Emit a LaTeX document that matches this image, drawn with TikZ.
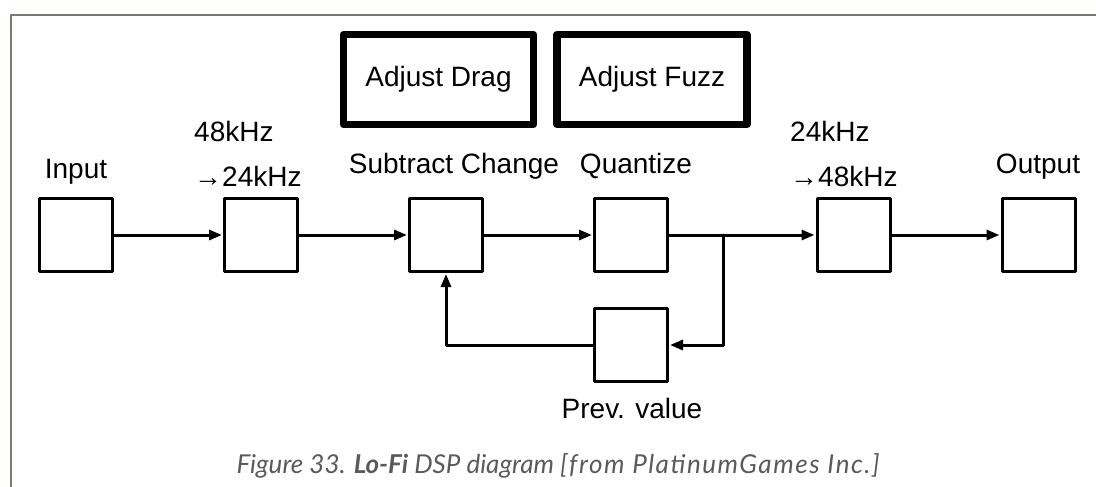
\documentclass[tikz,border=0pt]{standalone}
\usepackage{fontspec}
\setmainfont{Liberation Sans}
\newfontfamily\capfont{Lato}
\usetikzlibrary{arrows.meta, positioning}
\definecolor{framegray}{HTML}{7D7868}
\definecolor{capgray}{HTML}{5A5A5A}

\begin{document}
\begin{tikzpicture}[x=1pt, y=-1pt, line join=round, line cap=round,
    block/.style={draw, line width=3pt, minimum size=73pt, inner sep=0pt},
    knob/.style={draw, line width=7.5pt, minimum width=190pt, minimum height=89.5pt,
      inner sep=0pt, font=\fontsize{28}{30}\selectfont},
    lbl/.style={inner sep=0pt, font=\fontsize{28}{45}\selectfont},
    flow/.style={line width=3pt, shorten >=1pt, -{Triangle[length=13pt, width=10pt]}}]
  \useasboundingbox (0,0) rectangle (1096,487);
  % page frame
  \draw[line width=2pt, framegray, line cap=butt] (1096,15) -- (11,15) -- (11,487);

  % blocks on the main path
  \foreach \n/\x in {in/76, down/261, sub/446, quant/631, up/853.5, out/1038.5} {
    \node[block] (\n) at (\x,235) {};
  }
  \node[block] (prev) at (631,345) {};

  % control boxes
  \node[knob] (drag) at (438.5,79.5) {Adjust Drag};
  \node[knob] (fuzz) at (652,79.5) {Adjust Fuzz};

  % labels
  \node[lbl, anchor=base] (inlbl) at (76,178) {Input};
  \node[lbl, anchor=south west, align=left] (downlbl) at (194,187) {48kHz\\→24kHz};
  \node[lbl, anchor=base] (sublbl) at (454,173) {Subtract Change};
  \node[lbl, anchor=base] (quantlbl) at (636,173) {Quantize};
  \node[lbl, anchor=south west, align=left] (uplbl) at (790,187) {24kHz\\→48kHz};
  \node[lbl, anchor=base] (outlbl) at (1038,173) {Output};
  \node[lbl, anchor=base] (prevlbl) at (632,418) {Prev. value};

  % signal flow
  \draw[flow] (in) -- (down);
  \draw[flow] (down) -- (sub);
  \draw[flow] (sub) -- (quant);
  \draw[flow] (quant) -- (up);
  \draw[flow] (up) -- (out);
  \coordinate (tap) at (723,235);
  \draw[flow] (tap) |- (prev);
  \draw[flow] (prev) -| (sub);

  % caption
  \node[anchor=base west, text=capgray, font=\capfont\itshape\fontsize{26}{30}\selectfont] (cap)
    at (233,473) {Figure 33. \textbf{Lo-Fi} DSP diagram {\addfontfeature{LetterSpace=6}\fontsize{26}{28}\selectfont[from PlatinumGames Inc.]}};
\end{tikzpicture}
\end{document}
